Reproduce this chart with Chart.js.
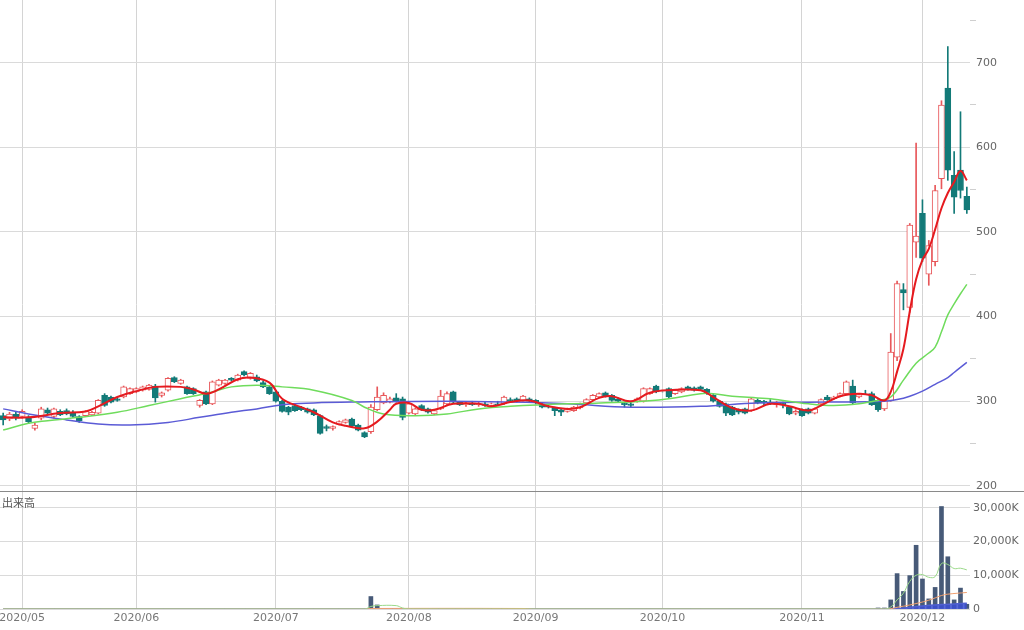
<!DOCTYPE html>
<html>
<head>
<meta charset="utf-8">
<script src="https://cdn.jsdelivr.net/npm/chart.js@4.4.1/dist/chart.umd.min.js"></script>
<style>
  body { margin: 0; background: #fff; }
  #wrap { position: relative; width: 1024px; height: 630px; }
  #volLabel { position: absolute; left: 2px; top: 494px; font: 11px "Noto Sans CJK JP", sans-serif; color: #555; }
</style>
</head>
<body>
<div id="wrap">
  <canvas id="chart" width="1024" height="630"></canvas>
  <div id="volLabel">出来高</div>
</div>
<script>
// trading days shown on the axis
const months = ['2020/04', '2020/05', '2020/06', '2020/07', '2020/08', '2020/09', '2020/10', '2020/11', '2020/12'];
const tradingDays = [
    [27, 28, 30],
    [1, 7, 8, 11, 12, 13, 14, 15, 18, 19, 20, 21, 22, 25, 26, 27, 28, 29],
    [1, 2, 3, 4, 5, 8, 9, 10, 11, 12, 15, 16, 17, 18, 19, 22, 23, 24, 25, 26, 29, 30],
    [1, 2, 3, 6, 7, 8, 9, 10, 13, 14, 15, 16, 17, 20, 21, 22, 27, 28, 29, 30, 31],
    [3, 4, 5, 6, 7, 11, 12, 13, 14, 17, 18, 19, 20, 21, 24, 25, 26, 27, 28, 31],
    [1, 2, 3, 4, 7, 8, 9, 10, 11, 14, 15, 16, 17, 18, 23, 24, 25, 28, 29, 30],
    [1, 2, 5, 6, 7, 8, 9, 12, 13, 14, 15, 16, 19, 20, 21, 22, 23, 26, 27, 28, 29, 30],
    [2, 4, 5, 6, 9, 10, 11, 12, 13, 16, 17, 18, 19, 20, 24, 25, 26, 27, 30],
    [1, 2, 3, 4, 7, 8, 9, 10]
];

// axis ticks
const priceTicks = [200, 225, 250, 275, 300, 325, 350, 375, 400, 425, 450, 475, 500, 525, 550, 575, 600, 625, 650, 675, 700, 725, 750];
const volumeTicks = [0, 10000, 20000, 30000];

// OHLC (yen)
const opens = [
    283, 279, 285, 282, 281, 268, 280, 290, 282, 288,
    289, 287, 282, 283, 284, 286, 307, 305, 303, 305,
    309, 311, 313, 314, 318, 307, 313, 328, 321, 317,
    315, 295, 311, 297, 319, 321, 327, 325, 335, 327,
    329, 322, 317, 311, 300, 293, 295, 293, 291, 290,
    283, 270, 268, 273, 275, 279, 272, 263, 264, 290,
    298, 299, 304, 303, 286, 285, 295, 291, 285, 291,
    297, 311, 299, 296, 298, 296, 297, 295, 297, 297,
    302, 303, 301, 303, 301, 297, 294, 292, 290, 288,
    289, 292, 298, 302, 305, 310, 307, 303, 298, 297,
    300, 300, 309, 318, 311, 315, 309, 311, 317, 316,
    317, 314, 307, 300, 297, 293, 290, 291, 289, 301,
    300, 299, 296, 298, 293, 286, 290, 291, 286, 297,
    305, 303, 306, 309, 318, 305, 310, 309, 301, 291,
    301, 352, 432, 411, 488, 522, 450, 465, 563, 670,
    567, 573, 542
];
const highs = [
    286, 287, 288, 290, 283, 274, 293, 292, 292, 290,
    291, 289, 283, 289, 288, 302, 309, 306, 304, 318,
    316, 316, 318, 320, 320, 311, 328, 329, 326, 318,
    316, 302, 312, 324, 326, 326, 328, 332, 336, 334,
    331, 324, 318, 313, 301, 294, 296, 294, 292, 291,
    284, 272, 271, 277, 279, 280, 273, 264, 296, 317,
    310, 305, 309, 305, 298, 292, 296, 292, 290, 313,
    311, 312, 300, 299, 300, 299, 299, 298, 300, 306,
    304, 304, 307, 304, 302, 298, 296, 293, 291, 292,
    294, 298, 303, 308, 310, 311, 308, 304, 299, 299,
    304, 316, 316, 319, 311, 316, 314, 316, 318, 317,
    318, 315, 308, 301, 298, 294, 291, 292, 304, 303,
    301, 302, 300, 299, 294, 290, 291, 292, 292, 303,
    307, 306, 310, 324, 325, 309, 313, 311, 302, 302,
    380, 442, 439, 510, 605, 538, 490, 555, 655, 719,
    595, 642, 553
];
const lows = [
    272, 277, 278, 280, 274, 266, 278, 285, 280, 283,
    284, 281, 275, 282, 283, 285, 294, 298, 300, 304,
    308, 310, 312, 313, 299, 305, 312, 322, 320, 308,
    308, 293, 296, 296, 318, 320, 324, 324, 330, 326,
    323, 316, 308, 299, 287, 284, 288, 289, 286, 283,
    261, 265, 266, 272, 274, 270, 265, 257, 262, 289,
    297, 298, 299, 278, 285, 284, 289, 286, 284, 290,
    296, 298, 295, 294, 295, 294, 294, 293, 295, 296,
    299, 299, 300, 299, 297, 292, 292, 283, 283, 287,
    288, 291, 297, 301, 304, 305, 300, 299, 293, 293,
    299, 299, 308, 310, 311, 304, 308, 310, 313, 312,
    313, 308, 299, 293, 283, 283, 285, 285, 288, 297,
    296, 296, 293, 292, 284, 284, 282, 285, 285, 296,
    301, 302, 305, 308, 297, 304, 308, 295, 288, 289,
    300, 348, 408, 405, 470, 465, 437, 460, 551, 561,
    522, 540, 522
];
const closes = [
    278, 285, 280, 288, 276, 272, 291, 286, 291, 284,
    285, 282, 277, 288, 287, 301, 295, 299, 301, 317,
    315, 315, 317, 319, 304, 310, 327, 323, 325, 309,
    309, 301, 297, 323, 325, 325, 325, 331, 331, 333,
    324, 317, 309, 300, 288, 287, 289, 290, 287, 284,
    262, 268, 270, 276, 278, 271, 266, 258, 293, 305,
    307, 303, 300, 281, 297, 291, 290, 287, 289, 306,
    309, 299, 296, 298, 296, 297, 295, 297, 296, 305,
    300, 300, 306, 300, 299, 293, 293, 289, 287, 291,
    293, 297, 302, 307, 309, 306, 301, 300, 296, 295,
    303, 315, 315, 311, 311, 305, 313, 315, 314, 313,
    314, 309, 300, 294, 286, 284, 287, 286, 303, 298,
    298, 297, 298, 296, 285, 288, 283, 286, 291, 302,
    302, 305, 309, 323, 298, 308, 310, 296, 290, 301,
    358, 439, 428, 508, 495, 469, 484, 549, 650, 573,
    541, 549, 526
];

// moving averages: [day index, value]
const ma5 = [
    [0, 281], [4, 281], [9, 286], [13, 288], [15, 294], [18, 305], [21, 312], [24, 317], [28, 317],
    [30, 314], [32, 309], [34, 314], [37, 326], [39, 328], [42, 322], [44, 303], [47, 293], [49, 287],
    [52, 275], [54, 271], [57, 268], [59, 276], [61, 290], [62, 297], [64, 298], [66, 290], [68, 290],
    [71, 297], [75, 297], [77, 294], [80, 299], [83, 301], [86, 294], [89, 291], [91, 293], [94, 304],
    [96, 306], [99, 300], [102, 310], [105, 313], [110, 313], [112, 305], [115, 292], [118, 289],
    [121, 297], [124, 294], [127, 289], [129, 295], [132, 306], [135, 309], [137, 307], [139, 301],
    [140, 311], [141, 335], [142, 362], [143, 406], [144, 444], [145, 467], [146, 480], [147, 503],
    [148, 528], [149, 546], [150, 559], [151, 572], [152, 561]
];
const ma25 = [
    [0, 266], [4, 274], [7, 277], [12, 281], [18, 287], [23, 295], [28, 303], [33, 311], [36, 317],
    [40, 319], [44, 317], [49, 313], [55, 301], [57, 293], [60, 285], [65, 283], [70, 285], [75, 291],
    [80, 294], [89, 297], [99, 299], [105, 303], [110, 309], [112, 309], [115, 306], [119, 304],
    [121, 303], [127, 297], [131, 295], [135, 297], [138, 301], [140, 305], [142, 325], [144, 345],
    [146, 357], [147, 364], [148, 382], [149, 402], [150, 415], [151, 427], [152, 438]
];
const ma75 = [
    [0, 291], [4, 285], [10, 278], [15, 273], [20, 272], [26, 275], [31, 281], [36, 287], [40, 291],
    [44, 296], [49, 298], [55, 299], [70, 300], [80, 299], [89, 297], [99, 293], [110, 294], [119, 298],
    [130, 299], [139, 300], [141, 302], [143, 306], [145, 312], [147, 320], [149, 328], [150, 334],
    [151, 340], [152, 346]
];

// volume (thousand shares): [day index, value]
const volume = [
    [58, 3700], [59, 1200], [138, 300], [139, 300], [140, 2700], [141, 10500], [142, 5200], [143, 9900],
    [144, 18900], [145, 8900], [146, 3000], [147, 6400], [148, 30400], [149, 15500], [150, 2700],
    [151, 6200], [152, 1400]
];
const volMa5 = [
    [0, 0], [57, 0], [58, 750], [59, 1000], [62, 1000], [63, 300], [64, 0], [139, 0], [140, 600],
    [141, 2700], [142, 4700], [143, 8200], [144, 10000], [145, 10200], [146, 9400], [147, 9600],
    [148, 13500], [149, 13200], [150, 12000], [151, 12100], [152, 11600]
];
const volMa25 = [
    [0, 0], [57, 0], [58, 150], [82, 150], [84, 0], [139, 0], [140, 100], [141, 500], [143, 1200],
    [146, 2600], [148, 4000], [149, 4400], [152, 4900]
];
const volMa75 = [
    [0, 0], [139, 0], [141, 150], [143, 500], [145, 900], [148, 1300], [150, 1500], [152, 1700]
];

const labels = [];
const monthStart = new Set();
months.forEach((m, mi) => {
    tradingDays[mi].forEach((d, di) => {
        if (di === 0 && mi > 0) monthStart.add(labels.length);
        labels.push(m + '/' + String(d).padStart(2, '0'));
    });
});

const UP = '#e8575a';
const DOWN = '#137a78';
const isUp = closes.map((c, i) => c > opens[i]);
const pts = arr => arr.map(([i, v]) => ({ x: labels[i], y: v }));

const separator = {
    id: 'separator',
    afterDraw(chart) {
        const c = chart.ctx;
        const y = Math.round(chart.scales.yv.top) + 0.5;
        c.save();
        c.strokeStyle = '#8a8a8a';
        c.lineWidth = 1;
        c.beginPath();
        c.moveTo(0, y);
        c.lineTo(chart.width, y);
        c.stroke();
        c.restore();
    }
};

// right axes: fixed width, no extra label padding above/below the panes
const fixAxis = s => {
    s.width = 54;
    s.paddingTop = 0;
    s.paddingBottom = 0;
};

Chart.defaults.font.family = '"DejaVu Sans", Verdana, sans-serif';
Chart.defaults.font.size = 11;
Chart.defaults.color = '#777';

new Chart(document.getElementById('chart'), {
    type: 'bar',
    data: {
        labels,
        datasets: [
            // price moving averages
            { type: 'line', data: pts(ma5), borderColor: '#e51a1f', borderWidth: 2, pointRadius: 0, tension: 0.4, yAxisID: 'y', order: 1 },
            { type: 'line', data: pts(ma25), borderColor: '#6fdc5c', borderWidth: 1.5, pointRadius: 0, tension: 0.4, yAxisID: 'y', order: 1 },
            { type: 'line', data: pts(ma75), borderColor: '#5b5bd6', borderWidth: 1.5, pointRadius: 0, tension: 0.4, yAxisID: 'y', order: 1 },
            // candle bodies
            {
                data: opens.map((o, i) => [o, closes[i]]),
                backgroundColor: isUp.map(u => u ? '#ffffff' : DOWN),
                borderColor: isUp.map(u => u ? UP : DOWN),
                borderWidth: 1, borderSkipped: false, barThickness: 6, grouped: false, yAxisID: 'y', order: 2
            },
            // wicks
            {
                data: lows.map((l, i) => [l, highs[i]]),
                backgroundColor: isUp.map(u => u ? UP : DOWN),
                barThickness: 1, grouped: false, yAxisID: 'y', order: 3
            },
            // volume
            { type: 'line', data: pts(volMa5), borderColor: '#9bd98a', borderWidth: 1, pointRadius: 0, tension: 0.4, yAxisID: 'yv', order: 4 },
            { type: 'line', data: pts(volMa25), borderColor: '#f0a070', borderWidth: 1, pointRadius: 0, tension: 0.4, yAxisID: 'yv', order: 4 },
            { type: 'line', data: pts(volMa75), borderColor: '#5060d0', backgroundColor: 'rgba(60,80,210,0.85)', fill: 'origin', borderWidth: 1.5, pointRadius: 0, tension: 0.4, yAxisID: 'yv', order: 4 },
            { data: pts(volume), backgroundColor: '#475a78', barThickness: 4, grouped: false, yAxisID: 'yv', order: 5 }
        ]
    },
    options: {
        responsive: false,
        animation: false,
        devicePixelRatio: 1,
        layout: { padding: 0 },
        plugins: { legend: { display: false }, tooltip: { enabled: false } },
        scales: {
            x: {
                offset: true,
                border: { display: false },
                grid: {
                    offset: false,
                    drawTicks: false,
                    color: ctx => monthStart.has(ctx.index) ? '#d4d4d4' : 'transparent'
                },
                ticks: {
                    autoSkip: false,
                    maxRotation: 0,
                    padding: 3,
                    color: '#777',
                    callback: (v, i) => monthStart.has(i) ? labels[i].slice(0, 7) : ''
                },
                afterFit: s => { s.height = 21; s.paddingLeft = 0; s.paddingRight = 0; }
            },
            y: {
                position: 'right',
                stack: 'panes',
                stackWeight: 491,
                min: 194,
                max: 774,
                border: { display: false },
                grid: {
                    color: ctx => ctx.tick && ctx.tick.value % 100 === 0 ? '#dadada' : 'transparent',
                    tickColor: ctx => ctx.tick && ctx.tick.value % 100 === 0 ? 'transparent' : '#cfcfcf',
                    tickLength: 6
                },
                ticks: {
                    padding: 0,
                    color: '#666',
                    callback: v => v % 100 === 0 ? v : ''
                },
                afterBuildTicks: s => { s.ticks = priceTicks.map(v => ({ value: v })); },
                afterFit: fixAxis
            },
            yv: {
                position: 'right',
                stack: 'panes',
                stackWeight: 118,
                min: 0,
                max: 35000,
                border: { display: false },
                grid: { color: '#dadada', drawTicks: false },
                ticks: {
                    padding: 3,
                    color: '#666',
                    callback: v => v === 0 ? '0' : v.toLocaleString('en-US') + 'K'
                },
                afterBuildTicks: s => { s.ticks = volumeTicks.map(v => ({ value: v })); },
                afterFit: fixAxis
            }
        }
    },
    plugins: [separator]
});
</script>
</body>
</html>
